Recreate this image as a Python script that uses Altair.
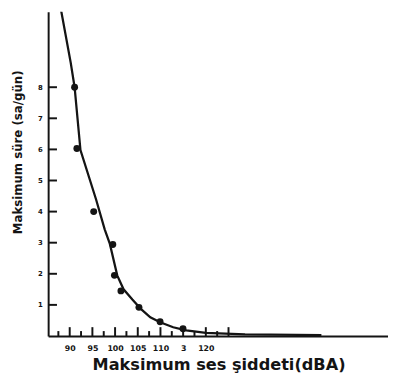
import altair as alt
import pandas as pd

# Fitted curve (dBA, hours/day)
curve_db = [87.84, 90.22, 91.08, 92.37, 95.83, 97.71, 98.85, 100.47, 101.87, 103.81, 105.61, 107.76, 109.92, 112.81, 115.69, 120.0, 128.64, 145.47]
curve_h = [10.68, 8.79, 8.00, 5.98, 4.38, 3.43, 2.96, 1.95, 1.50, 1.17, 0.88, 0.60, 0.44, 0.28, 0.18, 0.10, 0.05, 0.03]

# Measured points
pt_db = [91.08, 91.58, 95.29, 99.50, 99.86, 101.29, 105.26, 109.92, 114.97]
pt_h = [8.0, 6.03, 4.0, 2.94, 1.95, 1.45, 0.92, 0.46, 0.23]

x_labels = [90, 95, 100, 105, 110, 115, 120]
x_major_ticks = [90, 95, 100, 105, 110, 115, 120, 125]
x_minor_ticks = [87.5, 92.5, 97.5, 102.5, 107.5, 112.5, 117.5, 122.5]
y_ticks = [1, 2, 3, 4, 5, 6, 7, 8]

INK = "#141414"
FONT = "DejaVu Sans"
W, H = 347, 331

xs = alt.Scale(domain=[85.25, 160.15], nice=False, zero=False)
ys = alt.Scale(domain=[0, 10.425], nice=False, zero=False)

curve_df = pd.DataFrame({"db": curve_db, "h": curve_h})
pt_df = pd.DataFrame({"db": pt_db, "h": pt_h})
ymaj = pd.DataFrame({"v": y_ticks})
xmaj = pd.DataFrame({"v": x_major_ticks})
xmin_ = pd.DataFrame({"v": x_minor_ticks})

x_axis = alt.Axis(
    values=x_labels, ticks=False, grid=False,
    labelExpr="datum.value == 115 ? '3' : datum.label",
    labelFont=FONT, labelFontSize=8, labelFontWeight="bold", labelColor=INK,
    labelPadding=9, domainColor=INK, domainWidth=2,
    title="Maksimum ses şiddeti(dBA)", titleFont=FONT, titleFontSize=16.5,
    titleFontWeight="bold", titleColor=INK, titleX=174, titleY=34,
    titleBaseline="alphabetic", titleAnchor="start", titleAlign="center",
)
y_axis = alt.Axis(
    values=y_ticks, ticks=False, grid=False,
    labelFont=FONT, labelFontSize=7, labelFontWeight="bold", labelColor=INK,
    labelPadding=6, domainColor=INK, domainWidth=2,
    title="Maksimum süre (sa/gün)", titleFont=FONT, titleFontSize=12,
    titleFontWeight="bold", titleColor=INK, titleX=-31, titleY=143,
    titleAngle=270, titleAlign="center", titleBaseline="middle",
)

line = alt.Chart(curve_df).mark_line(
    color=INK, strokeWidth=2.3, interpolate="linear", clip=True
).encode(
    x=alt.X("db:Q", scale=xs, axis=x_axis),
    y=alt.Y("h:Q", scale=ys, axis=y_axis),
)

pts = alt.Chart(pt_df).mark_circle(color=INK, size=50, opacity=1).encode(
    x=alt.X("db:Q", scale=xs), y=alt.Y("h:Q", scale=ys)
)

yt = alt.Chart(ymaj).mark_rule(color=INK, strokeWidth=2).encode(
    y=alt.Y("v:Q", scale=ys), x=alt.value(0), x2=alt.value(9)
)
xt_major = alt.Chart(xmaj).mark_rule(color=INK, strokeWidth=2).encode(
    x=alt.X("v:Q", scale=xs), y=alt.value(H), y2=alt.value(H - 9)
)
xt_minor = alt.Chart(xmin_).mark_rule(color=INK, strokeWidth=2).encode(
    x=alt.X("v:Q", scale=xs), y=alt.value(H), y2=alt.value(H - 5)
)

chart = alt.layer(line, pts, yt, xt_major, xt_minor).properties(
    width=W, height=H,
    autosize=alt.AutoSizeParams(type="none"),
    padding={"left": 41, "top": 0, "right": 0, "bottom": 38},
    background="white",
).configure_view(stroke=None)

chart.save("out.html", embed_options={"renderer": "svg", "actions": False})
